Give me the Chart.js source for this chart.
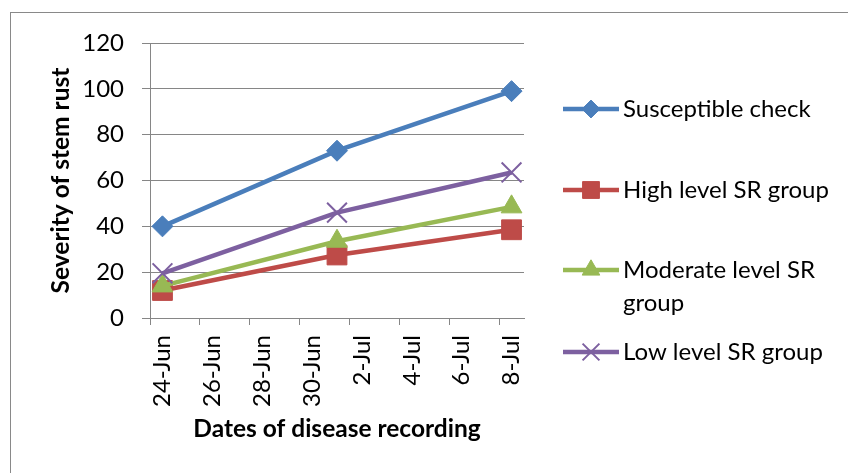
<!DOCTYPE html>
<html>
<head>
<meta charset="utf-8">
<title>Severity of stem rust</title>
<script src="https://cdn.jsdelivr.net/npm/chart.js@4.4.1/dist/chart.umd.min.js"></script>
<style>
  html, body { margin: 0; padding: 0; background: #fff; overflow: hidden; }
  #frame { position: absolute; left: 10px; top: 12px; width: 900px; height: 500px; border: 1px solid #898989; }
  #wrap { position: absolute; left: 0; top: 0; width: 848px; height: 473px; }
</style>
</head>
<body>
<div id="frame"></div>
<div id="wrap"><canvas id="rustChart" width="848" height="473"></canvas></div>
<script>
// ============================================================
// DATA — severity of stem rust per recording date
// ============================================================
const dayLabels = [
  '24-Jun', '25-Jun', '26-Jun', '27-Jun', '28-Jun', '29-Jun', '30-Jun',
  '1-Jul', '2-Jul', '3-Jul', '4-Jul', '5-Jul', '6-Jul', '7-Jul', '8-Jul'
];
const recordDates = ['24-Jun', '1-Jul', '8-Jul'];

const seriesNames = ['Susceptible check', 'High level SR group', 'Moderate level SR group', 'Low level SR group'];
const susceptibleCheck = [40, 73, 99];
const highLevelSR = [12, 27.5, 38.5];
const moderateLevelSR = [14, 33.5, 48.5];
const lowLevelSR = [19.5, 46, 63.5];

const yMin = 0;
const yMax = 120;
const yStep = 20;

// legend text, wrapped like the original
const legendLines = [
  ['Susceptible check'],
  ['High level SR group'],
  ['Moderate level SR', 'group'],
  ['Low level SR group']
];

// ============================================================
// Estilos
// ============================================================
const axisGray = '#868686';
const fontFamily = 'Lato, "Open Sans", sans-serif';
const fontSize = 24;
const titleSize = 24.5;

const seriesStyles = [
  { color: '#4A7EBB', pointStyle: 'rectRot', radius: 10.5, pointBorderWidth: 1 },
  { color: '#BE4B48', pointStyle: 'rect', radius: 14, pointBorderWidth: 1 },
  { color: '#98B954', pointStyle: 'triangle', radius: 12, pointBorderWidth: 1 },
  { color: '#7D60A0', pointStyle: 'crossRot', radius: 14, pointBorderWidth: 2 }
];

function toPoints(values) {
  return values.map((v, i) => ({ x: recordDates[i], y: v }));
}

const seriesValues = [susceptibleCheck, highLevelSR, moderateLevelSR, lowLevelSR];

const datasets = seriesValues.map((values, i) => ({
  label: seriesNames[i],
  data: toPoints(values),
  borderColor: seriesStyles[i].color,
  backgroundColor: seriesStyles[i].color,
  borderWidth: 4.5,
  pointStyle: seriesStyles[i].pointStyle,
  pointRadius: seriesStyles[i].radius,
  pointHoverRadius: seriesStyles[i].radius,
  pointBackgroundColor: seriesStyles[i].color,
  pointBorderColor: seriesStyles[i].color,
  pointBorderWidth: seriesStyles[i].pointBorderWidth,
  tension: 0,
  clip: false,
  order: seriesValues.length - i
}));

// ============================================================
// Leyenda a la derecha (con texto en dos líneas)
// ============================================================
const sideLegend = {
  id: 'sideLegend',
  afterDraw(chart) {
    const ctx = chart.ctx;
    const lineX0 = 563;
    const lineX1 = 619;
    const textX = 623;
    const rowY = [109, 190, 270, 352];
    const lineGap = 33;

    ctx.save();
    ctx.font = `${fontSize}px ${fontFamily}`;
    ctx.textBaseline = 'middle';
    ctx.textAlign = 'left';

    chart.data.datasets.forEach((ds, i) => {
      const y = rowY[i];
      ctx.strokeStyle = ds.borderColor;
      ctx.lineWidth = ds.borderWidth;
      ctx.beginPath();
      ctx.moveTo(lineX0, y);
      ctx.lineTo(lineX1, y);
      ctx.stroke();

      ctx.fillStyle = ds.pointBackgroundColor;
      ctx.strokeStyle = ds.pointBorderColor;
      ctx.lineWidth = ds.pointBorderWidth;
      Chart.helpers.drawPoint(ctx, {
        pointStyle: ds.pointStyle,
        radius: ds.pointRadius * 0.85,
        rotation: 0,
        borderWidth: ds.pointBorderWidth
      }, (lineX0 + lineX1) / 2, y);

      ctx.fillStyle = '#000';
      legendLines[i].forEach((txt, k) => {
        ctx.fillText(txt, textX, y + k * lineGap);
      });
    });
    ctx.restore();
  }
};

new Chart(document.getElementById('rustChart'), {
  type: 'line',
  data: { labels: dayLabels, datasets },
  plugins: [sideLegend],
  options: {
    responsive: false,
    animation: false,
    layout: { padding: { left: 42, top: 43, right: 324, bottom: 25 } },
    plugins: {
      legend: { display: false },
      tooltip: { enabled: false }
    },
    scales: {
      x: {
        type: 'category',
        offset: true,
        afterFit: (scale) => { scale.height = 130; },
        border: { display: true, color: axisGray, width: 1 },
        grid: {
          offset: true,
          drawOnChartArea: false,
          drawTicks: true,
          tickLength: 7,
          lineWidth: 1,
          color: (ctx) => (ctx.index !== undefined && ctx.index % 2 === 0) ? axisGray : 'rgba(0,0,0,0)'
        },
        ticks: {
          autoSkip: false,
          minRotation: 90,
          maxRotation: 90,
          padding: 10,
          color: '#000',
          font: { family: fontFamily, size: fontSize },
          callback: (value, index) => (index % 2 === 0 ? dayLabels[index] : '')
        },
        title: {
          display: true,
          text: 'Dates of disease recording',
          color: '#000',
          font: { family: fontFamily, size: titleSize, weight: 'bold' }
        }
      },
      y: {
        min: yMin,
        max: yMax,
        afterFit: (scale) => { scale.width = 108; },
        border: { display: true, color: axisGray, width: 1 },
        grid: {
          color: axisGray,
          lineWidth: 1,
          drawTicks: true,
          tickLength: 8
        },
        ticks: {
          stepSize: yStep,
          padding: 18,
          color: '#000',
          font: { family: fontFamily, size: fontSize }
        },
        title: {
          display: true,
          text: 'Severity of stem rust',
          color: '#000',
          font: { family: fontFamily, size: titleSize, weight: 'bold' }
        }
      }
    }
  }
});
</script>
</body>
</html>
